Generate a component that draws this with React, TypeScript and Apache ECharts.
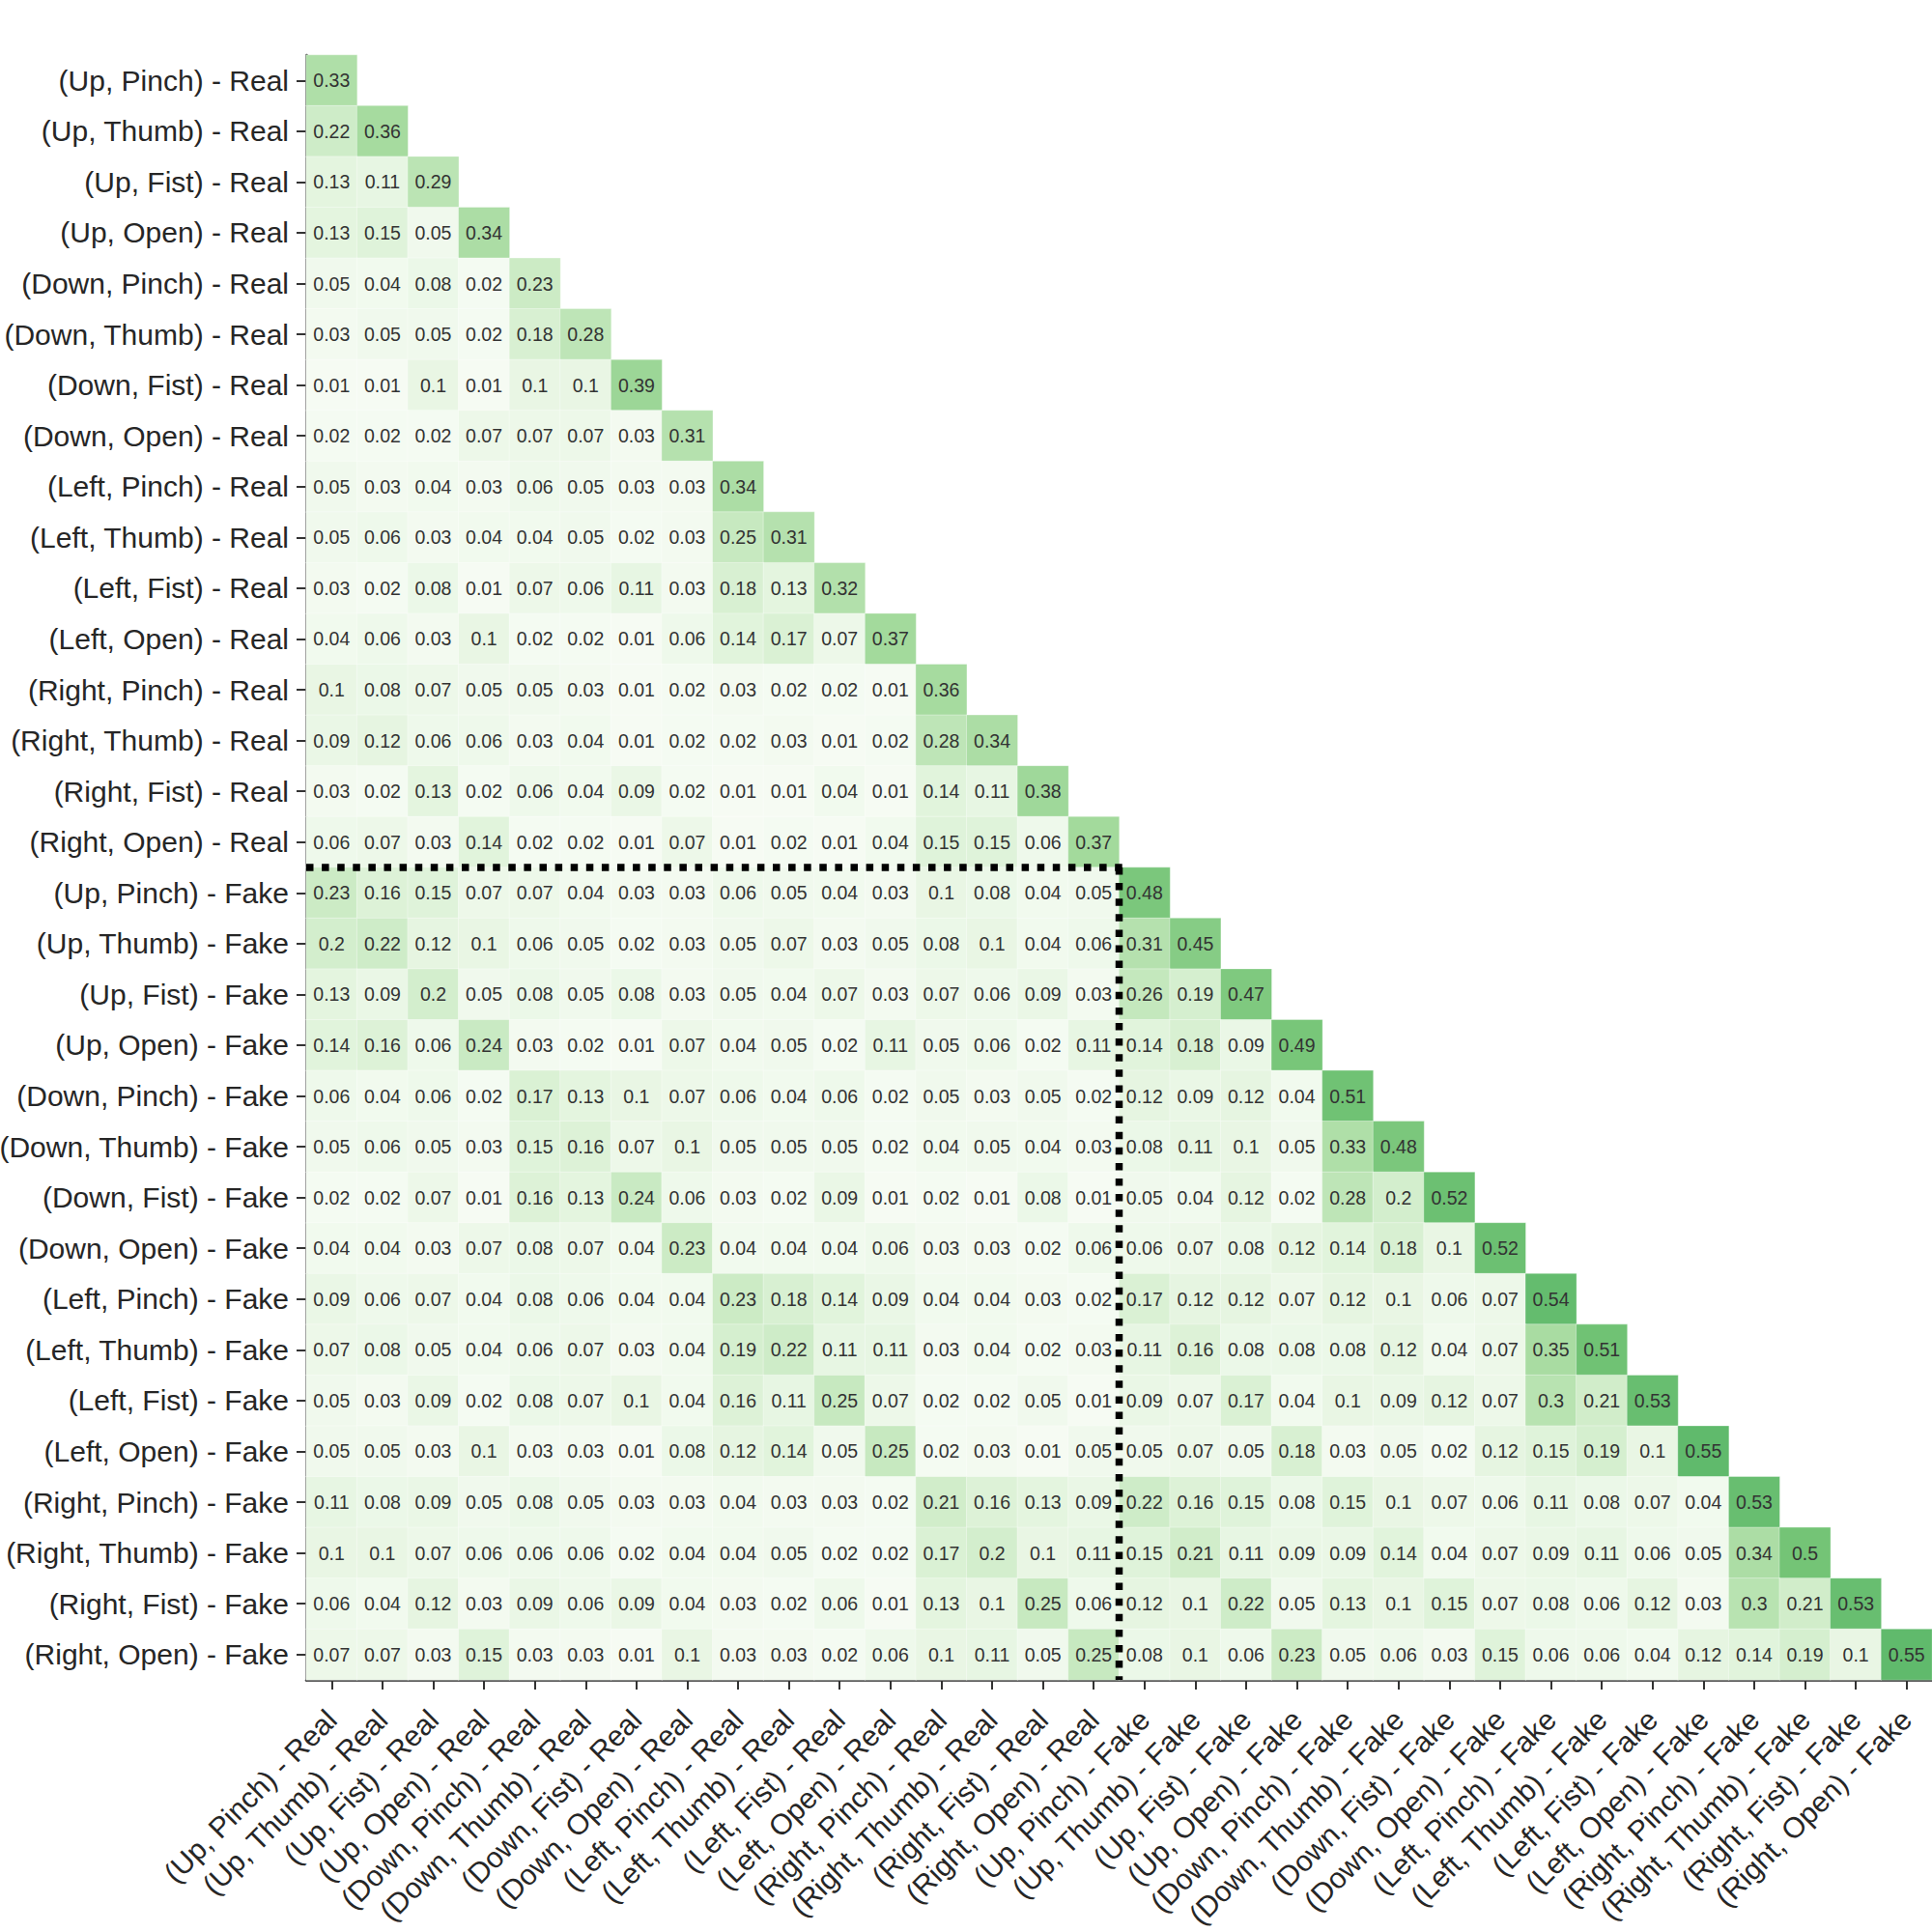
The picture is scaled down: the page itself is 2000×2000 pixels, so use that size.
import React, { useEffect, useRef } from "react";
import * as echarts from "echarts";

const categories: string[] = [
  "(Up, Pinch) - Real", "(Up, Thumb) - Real", "(Up, Fist) - Real", "(Up, Open) - Real",
  "(Down, Pinch) - Real", "(Down, Thumb) - Real", "(Down, Fist) - Real", "(Down, Open) - Real",
  "(Left, Pinch) - Real", "(Left, Thumb) - Real", "(Left, Fist) - Real", "(Left, Open) - Real",
  "(Right, Pinch) - Real", "(Right, Thumb) - Real", "(Right, Fist) - Real", "(Right, Open) - Real",
  "(Up, Pinch) - Fake", "(Up, Thumb) - Fake", "(Up, Fist) - Fake", "(Up, Open) - Fake",
  "(Down, Pinch) - Fake", "(Down, Thumb) - Fake", "(Down, Fist) - Fake", "(Down, Open) - Fake",
  "(Left, Pinch) - Fake", "(Left, Thumb) - Fake", "(Left, Fist) - Fake", "(Left, Open) - Fake",
  "(Right, Pinch) - Fake", "(Right, Thumb) - Fake", "(Right, Fist) - Fake", "(Right, Open) - Fake",
];

// Lower-triangular similarity values, row i has i+1 entries
const lowerTriangle: number[][] = [
  [0.33],
  [0.22, 0.36],
  [0.13, 0.11, 0.29],
  [0.13, 0.15, 0.05, 0.34],
  [0.05, 0.04, 0.08, 0.02, 0.23],
  [0.03, 0.05, 0.05, 0.02, 0.18, 0.28],
  [0.01, 0.01, 0.1, 0.01, 0.1, 0.1, 0.39],
  [0.02, 0.02, 0.02, 0.07, 0.07, 0.07, 0.03, 0.31],
  [0.05, 0.03, 0.04, 0.03, 0.06, 0.05, 0.03, 0.03, 0.34],
  [0.05, 0.06, 0.03, 0.04, 0.04, 0.05, 0.02, 0.03, 0.25, 0.31],
  [0.03, 0.02, 0.08, 0.01, 0.07, 0.06, 0.11, 0.03, 0.18, 0.13, 0.32],
  [0.04, 0.06, 0.03, 0.1, 0.02, 0.02, 0.01, 0.06, 0.14, 0.17, 0.07, 0.37],
  [0.1, 0.08, 0.07, 0.05, 0.05, 0.03, 0.01, 0.02, 0.03, 0.02, 0.02, 0.01, 0.36],
  [0.09, 0.12, 0.06, 0.06, 0.03, 0.04, 0.01, 0.02, 0.02, 0.03, 0.01, 0.02, 0.28, 0.34],
  [0.03, 0.02, 0.13, 0.02, 0.06, 0.04, 0.09, 0.02, 0.01, 0.01, 0.04, 0.01, 0.14, 0.11, 0.38],
  [0.06, 0.07, 0.03, 0.14, 0.02, 0.02, 0.01, 0.07, 0.01, 0.02, 0.01, 0.04, 0.15, 0.15, 0.06, 0.37],
  [0.23, 0.16, 0.15, 0.07, 0.07, 0.04, 0.03, 0.03, 0.06, 0.05, 0.04, 0.03, 0.1, 0.08, 0.04, 0.05, 0.48],
  [0.2, 0.22, 0.12, 0.1, 0.06, 0.05, 0.02, 0.03, 0.05, 0.07, 0.03, 0.05, 0.08, 0.1, 0.04, 0.06, 0.31, 0.45],
  [0.13, 0.09, 0.2, 0.05, 0.08, 0.05, 0.08, 0.03, 0.05, 0.04, 0.07, 0.03, 0.07, 0.06, 0.09, 0.03, 0.26, 0.19, 0.47],
  [0.14, 0.16, 0.06, 0.24, 0.03, 0.02, 0.01, 0.07, 0.04, 0.05, 0.02, 0.11, 0.05, 0.06, 0.02, 0.11, 0.14, 0.18, 0.09, 0.49],
  [0.06, 0.04, 0.06, 0.02, 0.17, 0.13, 0.1, 0.07, 0.06, 0.04, 0.06, 0.02, 0.05, 0.03, 0.05, 0.02, 0.12, 0.09, 0.12, 0.04, 0.51],
  [0.05, 0.06, 0.05, 0.03, 0.15, 0.16, 0.07, 0.1, 0.05, 0.05, 0.05, 0.02, 0.04, 0.05, 0.04, 0.03, 0.08, 0.11, 0.1, 0.05, 0.33, 0.48],
  [0.02, 0.02, 0.07, 0.01, 0.16, 0.13, 0.24, 0.06, 0.03, 0.02, 0.09, 0.01, 0.02, 0.01, 0.08, 0.01, 0.05, 0.04, 0.12, 0.02, 0.28, 0.2, 0.52],
  [0.04, 0.04, 0.03, 0.07, 0.08, 0.07, 0.04, 0.23, 0.04, 0.04, 0.04, 0.06, 0.03, 0.03, 0.02, 0.06, 0.06, 0.07, 0.08, 0.12, 0.14, 0.18, 0.1, 0.52],
  [0.09, 0.06, 0.07, 0.04, 0.08, 0.06, 0.04, 0.04, 0.23, 0.18, 0.14, 0.09, 0.04, 0.04, 0.03, 0.02, 0.17, 0.12, 0.12, 0.07, 0.12, 0.1, 0.06, 0.07, 0.54],
  [0.07, 0.08, 0.05, 0.04, 0.06, 0.07, 0.03, 0.04, 0.19, 0.22, 0.11, 0.11, 0.03, 0.04, 0.02, 0.03, 0.11, 0.16, 0.08, 0.08, 0.08, 0.12, 0.04, 0.07, 0.35, 0.51],
  [0.05, 0.03, 0.09, 0.02, 0.08, 0.07, 0.1, 0.04, 0.16, 0.11, 0.25, 0.07, 0.02, 0.02, 0.05, 0.01, 0.09, 0.07, 0.17, 0.04, 0.1, 0.09, 0.12, 0.07, 0.3, 0.21, 0.53],
  [0.05, 0.05, 0.03, 0.1, 0.03, 0.03, 0.01, 0.08, 0.12, 0.14, 0.05, 0.25, 0.02, 0.03, 0.01, 0.05, 0.05, 0.07, 0.05, 0.18, 0.03, 0.05, 0.02, 0.12, 0.15, 0.19, 0.1, 0.55],
  [0.11, 0.08, 0.09, 0.05, 0.08, 0.05, 0.03, 0.03, 0.04, 0.03, 0.03, 0.02, 0.21, 0.16, 0.13, 0.09, 0.22, 0.16, 0.15, 0.08, 0.15, 0.1, 0.07, 0.06, 0.11, 0.08, 0.07, 0.04, 0.53],
  [0.1, 0.1, 0.07, 0.06, 0.06, 0.06, 0.02, 0.04, 0.04, 0.05, 0.02, 0.02, 0.17, 0.2, 0.1, 0.11, 0.15, 0.21, 0.11, 0.09, 0.09, 0.14, 0.04, 0.07, 0.09, 0.11, 0.06, 0.05, 0.34, 0.5],
  [0.06, 0.04, 0.12, 0.03, 0.09, 0.06, 0.09, 0.04, 0.03, 0.02, 0.06, 0.01, 0.13, 0.1, 0.25, 0.06, 0.12, 0.1, 0.22, 0.05, 0.13, 0.1, 0.15, 0.07, 0.08, 0.06, 0.12, 0.03, 0.3, 0.21, 0.53],
  [0.07, 0.07, 0.03, 0.15, 0.03, 0.03, 0.01, 0.1, 0.03, 0.03, 0.02, 0.06, 0.1, 0.11, 0.05, 0.25, 0.08, 0.1, 0.06, 0.23, 0.05, 0.06, 0.03, 0.15, 0.06, 0.06, 0.04, 0.12, 0.14, 0.19, 0.1, 0.55],
];

// index of the first "Fake" category (split between blocks)
const splitIndex = 16;

const greens = ["#f7fcf5", "#e5f5e0", "#c7e9c0", "#a1d99b", "#74c476", "#41ab5d", "#238b45", "#006d2c", "#00441b"];

const FONT = "'Liberation Sans', Arial, sans-serif";

export default function App() {
  const ref = useRef<HTMLDivElement>(null);

  useEffect(() => {
    if (!ref.current) return;
    const chart = echarts.init(ref.current, null, { renderer: "svg" });

    const data: [number, number, number][] = [];
    lowerTriangle.forEach((row, i) => {
      row.forEach((v, j) => data.push([j, i, v]));
    });

    const axisCommon = {
      type: "category" as const,
      data: categories,
      axisLine: { show: true, lineStyle: { color: "#262626", width: 2.5 } },
      axisTick: { show: true, alignWithLabel: true, interval: 0, length: 10, lineStyle: { color: "#333", width: 2 } },
      splitLine: { show: false },
    };

    chart.setOption({
      animation: false,
      backgroundColor: "#ffffff",
      grid: { left: 317, top: 57, right: 0, bottom: 261, containLabel: false, outerBoundsMode: "none" },
      xAxis: {
        ...axisCommon,
        position: "bottom",
        axisLabel: { interval: 0, rotate: 45, margin: 36, fontSize: 30, color: "#262626", fontFamily: FONT },
      },
      yAxis: {
        ...axisCommon,
        inverse: true,
        axisLabel: { interval: 0, margin: 18, fontSize: 30, color: "#262626", fontFamily: FONT },
      },
      visualMap: {
        show: false,
        min: 0,
        max: 1,
        dimension: 2,
        inRange: { color: greens },
      },
      series: [
        {
          type: "heatmap",
          data,
          itemStyle: { borderColor: "rgba(255,255,255,0.35)", borderWidth: 1 },
          label: {
            show: true,
            fontSize: 19.5,
            color: "#333333",
            fontFamily: FONT,
            formatter: (p: any) => String(p.value[2]),
          },
          emphasis: { disabled: true },
        },
      ],
    });

    // Dotted separator lines between Real and Fake blocks
    const c0 = chart.convertToPixel({ xAxisIndex: 0, yAxisIndex: 0 }, [0, 0]) as number[];
    const c1 = chart.convertToPixel({ xAxisIndex: 0, yAxisIndex: 0 }, [1, 1]) as number[];
    const cw = c1[0] - c0[0];
    const ch = c1[1] - c0[1];
    const cs = chart.convertToPixel({ xAxisIndex: 0, yAxisIndex: 0 }, [splitIndex, splitIndex]) as number[];
    const cl = chart.convertToPixel({ xAxisIndex: 0, yAxisIndex: 0 }, [categories.length - 1, categories.length - 1]) as number[];
    const left = c0[0] - cw / 2;
    const bx = cs[0] - cw / 2;
    const by = cs[1] - ch / 2;
    const bottom = cl[1] + ch / 2;
    const dashStyle = { stroke: "#000", lineWidth: 7.5, lineDash: [7.5, 8.6], lineCap: "butt" };

    chart.setOption({
      graphic: [
        { type: "line", z: 100, shape: { x1: left, y1: by, x2: bx + 3.75, y2: by }, style: dashStyle },
        { type: "line", z: 100, shape: { x1: bx, y1: by, x2: bx, y2: bottom }, style: dashStyle },
      ],
    });

    return () => chart.dispose();
  }, []);

  return <div ref={ref} style={{ position: "fixed", left: 0, top: 0, width: 2000, height: 2000 }} />;
}
